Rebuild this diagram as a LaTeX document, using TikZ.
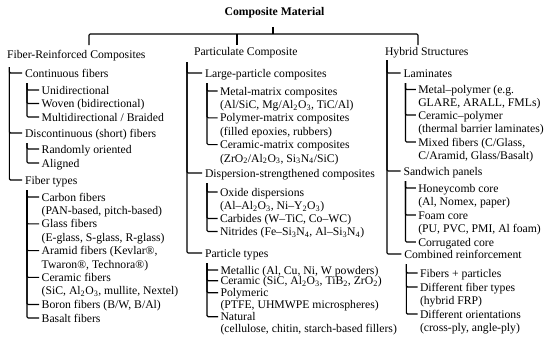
\documentclass[tikz,border=0pt]{standalone}
\usepackage{fontspec}
\setmainfont{Liberation Serif}
\usetikzlibrary{calc}
\newcommand\ts{\rule{0pt}{9pt}}
\newcommand\sub[1]{\textsubscript{#1}}
\begin{document}
\begin{tikzpicture}[x=1pt,y=-1pt,
  lbl/.style={anchor=north west, inner sep=0pt, outer sep=0pt, align=left, yshift=9pt,
              font=\fontsize{11.7}{13.4}\selectfont},
  tight/.style={font=\fontsize{11.7}{12}\selectfont},
  ttl/.style={anchor=north, inner sep=0pt, outer sep=0pt, yshift=9pt,
              font=\bfseries\fontsize{11.7}{13.4}\selectfont},
  conn/.style={draw=black, line width=1.1pt, rounded corners=1.2pt}]
\useasboundingbox (0,0) rectangle (550,348);

% ---- title and level 1
\node[ttl] (title) at (274.5,16) {\ts Composite Material};
\node[lbl] (fr) at (7,58) {\ts Fiber-Reinforced Composites};
\node[lbl] (pc) at (194,56) {\ts Particulate Composite};
\node[lbl] (hy) at (385,56) {\ts Hybrid Structures};

% ---- fiber-reinforced
\node[lbl] (fr1) at (25,77) {\ts Continuous fibers};
\node[lbl] (fr11) at (41.7,94) {\ts Unidirectional};
\node[lbl] (fr12) at (41.7,107.5) {\ts Woven (bidirectional)};
\node[lbl] (fr13) at (41.7,121) {\ts Multidirectional / Braided};
\node[lbl] (fr2) at (25,137) {\ts Discontinuous (short) fibers};
\node[lbl] (fr21) at (41.7,153) {\ts Randomly oriented};
\node[lbl] (fr22) at (41.7,167) {\ts Aligned};
\node[lbl] (fr3) at (25,184) {\ts Fiber types};
\node[lbl] (fr31) at (41.7,201) {\ts Carbon fibers\\(PAN-based, pitch-based)};
\node[lbl] (fr32) at (41.7,227.8) {\ts Glass fibers\\(E-glass, S-glass, R-glass)};
\node[lbl] (fr33) at (41.7,254.6) {\ts Aramid fibers (Kevlar®,\\Twaron®, Technora®)};
\node[lbl] (fr34) at (41.7,281.4) {\ts Ceramic fibers\\(SiC, Al\sub{2}O\sub{3}, mullite, Nextel)};
\node[lbl] (fr35) at (41.7,308.5) {\ts Boron fibers (B/W, B/Al)};
\node[lbl] (fr36) at (41.7,322) {\ts Basalt fibers};

% ---- particulate
\node[lbl] (pc1) at (205,77) {\ts Large-particle composites};
\node[lbl] (pc11) at (220,95) {\ts Metal-matrix composites\\(Al/SiC, Mg/Al\sub{2}O\sub{3}, TiC/Al)};
\node[lbl] (pc12) at (220,121.8) {\ts Polymer-matrix composites\\(filled epoxies, rubbers)};
\node[lbl] (pc13) at (220,148.6) {\ts Ceramic-matrix composites\\(ZrO\sub{2}/Al\sub{2}O\sub{3}, Si\sub{3}N\sub{4}/SiC)};
\node[lbl] (pc2) at (205,177) {\ts Dispersion-strengthened composites};
\node[lbl] (pc21) at (220,196) {\ts Oxide dispersions\\(Al–Al\sub{2}O\sub{3}, Ni–Y\sub{2}O\sub{3})};
\node[lbl] (pc22) at (220,222.5) {\ts Carbides (W–TiC, Co–WC)};
\node[lbl] (pc23) at (220,235.5) {\ts Nitrides (Fe–Si\sub{3}N\sub{4}, Al–Si\sub{3}N\sub{4})};
\node[lbl] (pc3) at (205,257) {\ts Particle types};
\node[lbl] (pc31) at (220.5,274) {\ts Metallic (Al, Cu, Ni, W powders)};
\node[lbl] (pc32) at (220.5,284.7) {\ts Ceramic (SiC, Al\sub{2}O\sub{3}, TiB\sub{2}, ZrO\sub{2})};
\node[lbl,tight] (pc33) at (220.5,296.7) {\ts Polymeric\\(PTFE, UHMWPE microspheres)};
\node[lbl,tight] (pc34) at (220.5,320.7) {\ts Natural\\(cellulose, chitin, starch-based fillers)};

% ---- hybrid
\node[lbl] (hy1) at (403.5,77) {\ts Laminates};
\node[lbl] (hy11) at (418.3,93.5) {\ts Metal–polymer (e.g.\\GLARE, ARALL, FMLs)};
\node[lbl] (hy12) at (418.3,119) {\ts Ceramic–polymer\\(thermal barrier laminates)};
\node[lbl] (hy13) at (418.3,146) {\ts Mixed fibers (C/Glass,\\C/Aramid, Glass/Basalt)};
\node[lbl] (hy2) at (403.5,175) {\ts Sandwich panels};
\node[lbl] (hy21) at (418.3,192) {\ts Honeycomb core\\(Al, Nomex, paper)};
\node[lbl] (hy22) at (418.3,219) {\ts Foam core\\(PU, PVC, PMI, Al foam)};
\node[lbl] (hy23) at (418.3,246) {\ts Corrugated core};
\node[lbl] (hy3) at (404.3,258) {\ts Combined reinforcement};
\node[lbl] (hy31) at (420,277) {\ts Fibers + particles};
\node[lbl] (hy32) at (420,291) {\ts Different fiber types\\(hybrid FRP)};
\node[lbl] (hy33) at (420,318) {\ts Different orientations\\(cross-ply, angle-ply)};

% ---- top connectors
\coordinate (bar) at (273,34);
\draw[conn] ($(bar |- title.south)+(0,8.5)$) -- (bar);
\draw[conn] ([shift={(82pt,4pt)}]fr.north west) |- (bar) -| ([shift={(33pt,2pt)}]hy.north west);
\draw[conn] ([shift={(43pt,2pt)}]pc.north west) -- ($([shift={(43pt,2pt)}]pc.north west)!(bar)!([shift={(43pt,40pt)}]pc.north west)$);

% ---- level 2 trunks
\foreach \c in {fr1,fr2,fr3}
  \draw[conn] ([shift={(2.3pt,-18pt)}]fr.north west) |- ([shift={(-3pt,-5pt)}]\c.north west);
\foreach \c in {pc1,pc2,pc3}
  \draw[conn] ([shift={(-7pt,-15pt)}]pc.north west) |- ([shift={(-3pt,-5pt)}]\c.north west);
\foreach \c in {hy1,hy2,hy3}
  \draw[conn] ([shift={(2pt,-13pt)}]hy.north west) |- ([shift={(-3pt,-5pt)}]\c.north west);

% ---- level 3 branches
\foreach \p/\cs in {fr1/{fr11,fr12,fr13}, fr2/{fr21,fr22}, fr3/{fr31,fr32,fr33,fr34,fr35,fr36},
                    pc1/{pc11,pc12,pc13}, pc2/{pc21,pc22,pc23}, pc3/{pc31,pc32,pc33,pc34},
                    hy1/{hy11,hy12,hy13}, hy2/{hy21,hy22,hy23}, hy3/{hy31,hy32,hy33}}
  \foreach \c in \cs
    \draw[conn] ([shift={(2pt,-15pt)}]\p.north west) |- ([shift={(-2.5pt,-5pt)}]\c.north west);
\end{tikzpicture}
\end{document}
